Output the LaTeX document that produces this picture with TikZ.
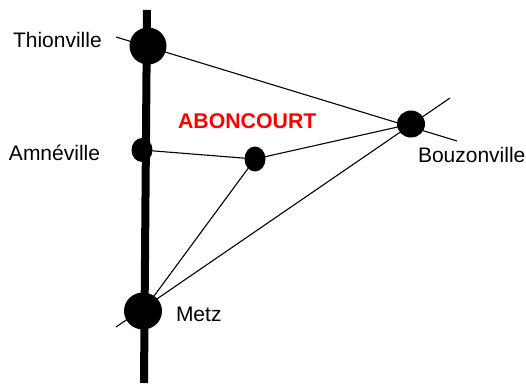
\documentclass[tikz,border=0pt]{standalone}
\usepackage{fontspec}
\usetikzlibrary{shapes.geometric}
\setmainfont{Liberation Sans}
\definecolor{redlabel}{RGB}{255,0,0}
\tikzset{
  every node/.style={inner sep=0pt,outer sep=0pt},
  town/.style={fill=black,draw=none,ellipse},
  roadline/.style={line width=8pt,black},
  linkline/.style={line width=1.1pt,black},
  lbl/.style={font=\fontsize{21pt}{24pt}\selectfont,text=black},
  title/.style={font=\fontsize{21.3pt}{24pt}\selectfont\bfseries,text=redlabel}
}
\begin{document}
\begin{tikzpicture}[x=1pt,y=-1pt]
\useasboundingbox (0,0) rectangle (526,383);
\coordinate (roadtop) at (147,10);
\coordinate (roadbot) at (144,383);
\coordinate (thiotail) at (116,37);
\coordinate (bouzS) at (457,141);
\coordinate (metztail) at (116,327);
\coordinate (bouzN) at (450,98);
\draw[roadline] (roadtop) -- (roadbot);
\node[town,minimum width=37pt,minimum height=37pt] (thio) at (148,46) {};
\node[town,minimum width=38pt,minimum height=37pt] (metz) at (143,311) {};
\node[town,minimum width=28pt,minimum height=27pt] (bouz) at (411,124) {};
\node[town,minimum width=21pt,minimum height=24pt] (amne) at (142,150) {};
\node[town,minimum width=21pt,minimum height=25pt] (abon) at (255,159) {};
\draw[linkline] (thiotail) -- (bouzS);
\draw[linkline] (metztail) -- (bouzN);
\draw[linkline] (amne.center) -- (abon.center);
\draw[linkline] (abon.center) -- (bouz.center);
\draw[linkline] (metz.center) -- (abon.center);
\node[lbl,anchor=base west] (tlabel) at (13,47) {Thionville};
\node[lbl,anchor=base west] (alabel) at (9,160) {Amnéville};
\node[lbl,anchor=base west] (blabel) at (418,162) {Bouzonville};
\node[lbl,anchor=base west] (mlabel) at (176,321) {Metz};
\node[title,anchor=base west] (abonlabel) at (178,128) {ABONCOURT};
\end{tikzpicture}
\end{document}
